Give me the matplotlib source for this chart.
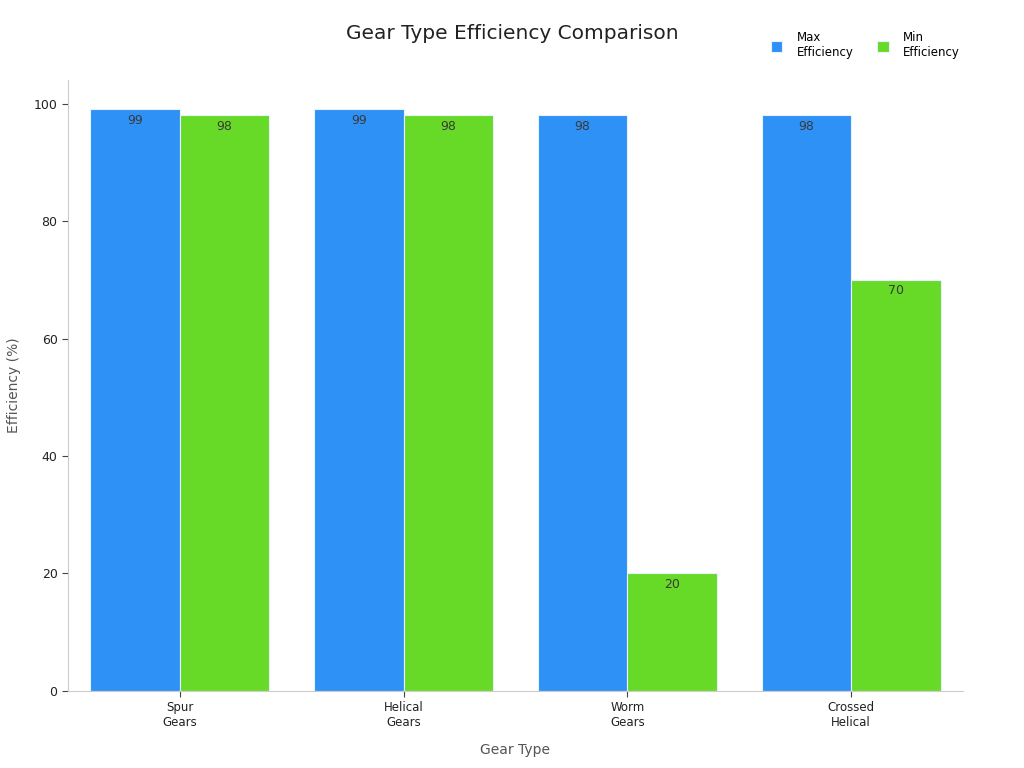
import numpy as np
import matplotlib
matplotlib.use("Agg")
from matplotlib import pyplot as plt

categories = ["Spur\nGears", "Helical\nGears", "Worm\nGears", "Crossed\nHelical"]
max_eff = [99, 99, 98, 98]
min_eff = [98, 98, 20, 70]
series_names = ["Max\nEfficiency", "Min\nEfficiency"]
colors = ["#2E91F6", "#66DA26"]

fig = plt.figure(figsize=(10.24, 7.68), dpi=100)
ax = fig.add_axes([0.0664, 0.1003, 0.874, 0.7955])

x = np.arange(len(categories))
w = 0.4
bars = []
for i, (vals, name, c) in enumerate(zip([max_eff, min_eff], series_names, colors)):
    b = ax.bar(x + (i - 0.5) * w, vals, w, color=c, edgecolor="#e8f2ff", linewidth=0.8, label=name)
    bars.append(b)
    for rect, v in zip(b, vals):
        ax.text(rect.get_x() + rect.get_width() / 2, v - 0.8, str(v), ha="center", va="top",
                fontsize=9, color="#3a3a3a")

ax.set_xlim(-0.5, 3.5)
ax.set_ylim(0, 104)
ax.set_xticks(x)
ax.set_xticklabels(categories, fontsize=8.5, color="#222222")
ax.set_yticks([0, 20, 40, 60, 80, 100])
ax.tick_params(axis="y", labelsize=9, colors="#222222", length=4, color="#444444")
ax.tick_params(axis="x", length=4, color="#444444")
for s in ["top", "right"]:
    ax.spines[s].set_visible(False)
for s in ["left", "bottom"]:
    ax.spines[s].set_color("#cccccc")
    ax.spines[s].set_linewidth(0.8)

ax.set_xlabel("Gear Type", fontsize=10, color="#555555", labelpad=10)
ax.set_ylabel("Efficiency (%)", fontsize=10, color="#555555", labelpad=9)
fig.text(0.5, 0.957, "Gear Type Efficiency Comparison", ha="center", va="center",
         fontsize=14.5, color="#222222")

leg = fig.legend(handles=bars, labels=series_names, loc="center", bbox_to_anchor=(0.845, 0.941),
                 ncol=2, frameon=False, fontsize=8.5, handlelength=1.0, handleheight=1.0,
                 columnspacing=2.0, handletextpad=1.2)

fig.savefig("out.png", dpi=100)
